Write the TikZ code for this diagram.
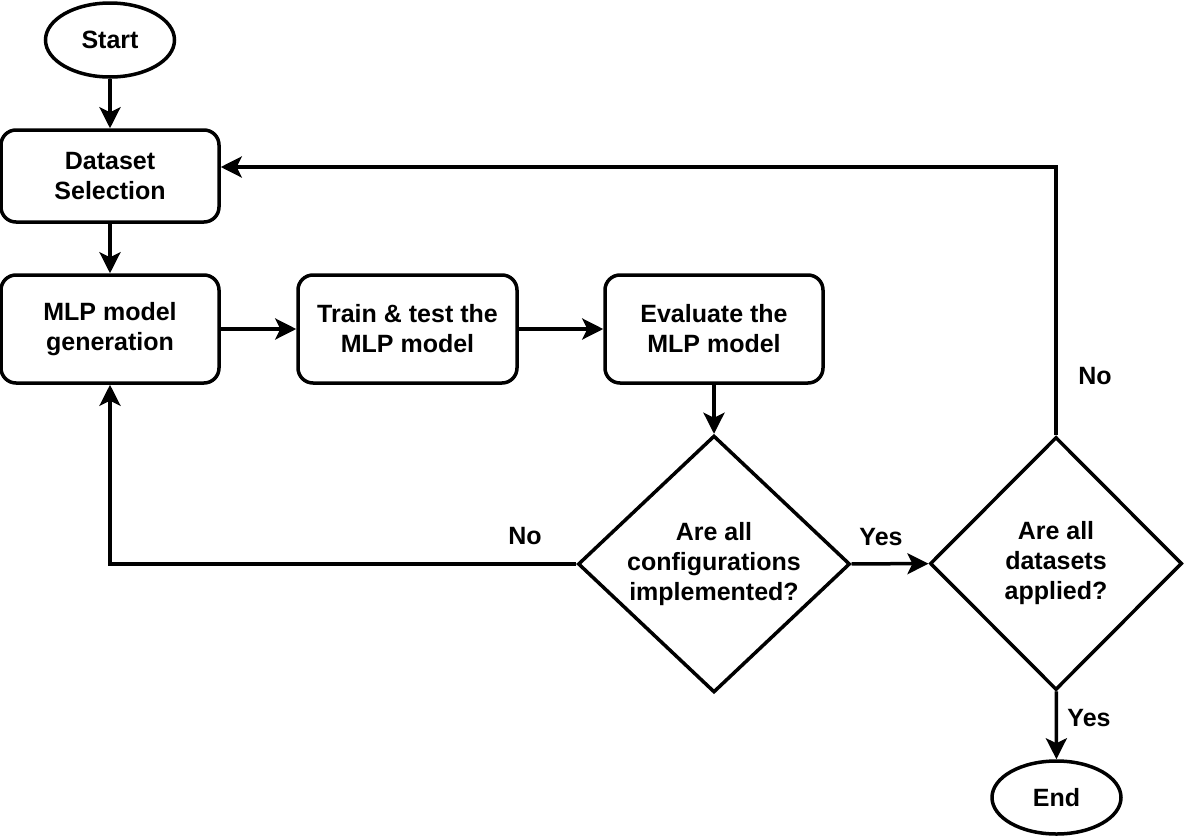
\documentclass[tikz,border=0pt]{standalone}
\usepackage{fontspec}
\setmainfont{Liberation Sans}
\usetikzlibrary{shapes.geometric,arrows.meta}
\begin{document}
\begin{tikzpicture}[x=1pt,y=-1pt,
  every node/.style={font=\fontsize{25}{30}\selectfont\bfseries, align=center},
  proc/.style={draw, line width=3.5pt, rounded corners=15pt, minimum width=218pt, inner sep=0pt},
  term/.style={draw, line width=3.5pt, ellipse, minimum width=129pt, minimum height=74pt, inner sep=0pt},
  decis/.style={draw, line width=3.5pt, diamond, aspect=1, inner sep=0pt},
  conn/.style={line width=3.5pt, -{Stealth[length=21pt,width=21pt,inset=5pt]}},
  lbl/.style={inner sep=1pt}
]
\useasboundingbox (0,0) rectangle (1192,836);
\node[term] (start) at (110,40) {Start};
\node[proc, minimum height=92pt] (dsel) at (110,176) {Dataset\\Selection};
\node[proc, minimum height=108pt] (mlp) at (110,329) {MLP model\\generation};
\node[proc, minimum height=108pt, minimum width=219pt] (train) at (407.5,329) {Train \& test the\\MLP model};
\node[proc, minimum height=108pt] (eval) at (714,329) {Evaluate the\\MLP model};
\node[decis, minimum width=272pt, minimum height=255pt] (d1) at (714,564) {Are all\\configurations\\implemented?};
\node[decis, minimum width=252pt, minimum height=253pt] (d2) at (1056,563.5) {Are all\\datasets\\applied?};
\node[term, minimum height=73pt] (end) at (1056.5,797.5) {End};

\coordinate (turn) at (1056,167);
\coordinate (loopc) at (110,564);

\draw[conn] (start) -- (dsel);
\draw[conn] (dsel) -- (mlp);
\draw[conn] (mlp) -- (train);
\draw[conn] (train) -- (eval);
\draw[conn] (eval) -- (d1);
\draw[conn] (d1) -- (d2);
\draw[conn] (d2) -- (end);
\draw[conn] (d1.west) -- (loopc) -- (mlp.south);
\draw[conn] (d2.north) -- (turn) -- (turn -| dsel.east);

\node[lbl] (l1) at (525,536) {No};
\node[lbl] (l2) at (881,537) {Yes};
\node[lbl] (l3) at (1095,376) {No};
\node[lbl] (l4) at (1089,718) {Yes};
\end{tikzpicture}
\end{document}
